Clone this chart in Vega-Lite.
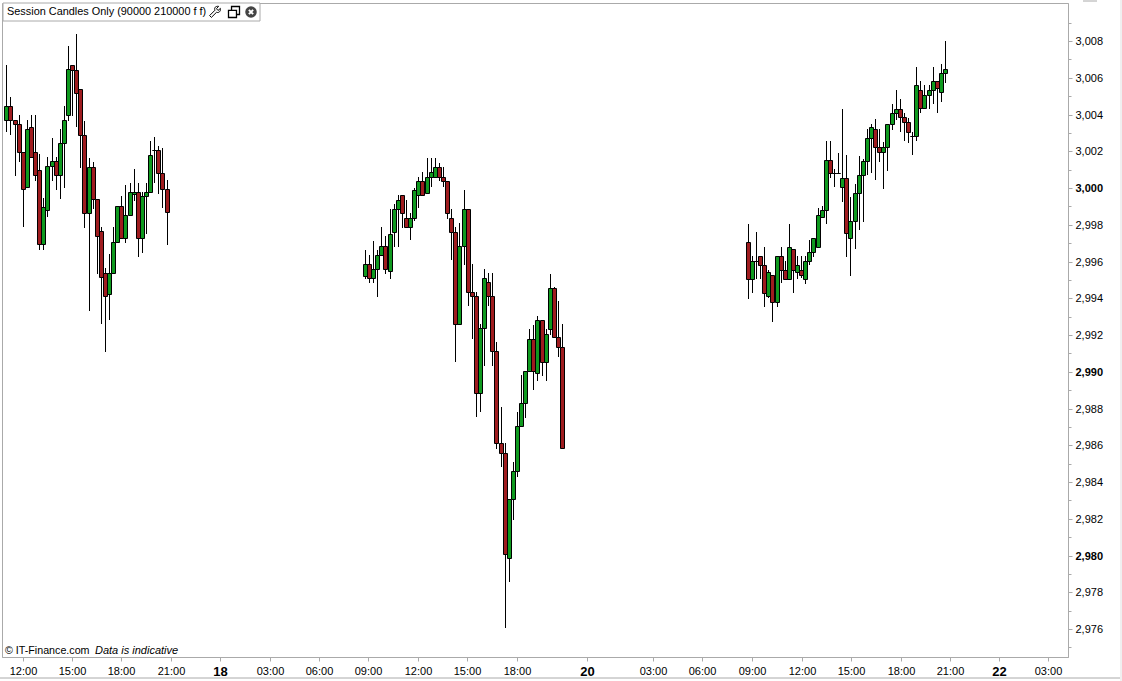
{"$schema":"https://vega.github.io/schema/vega-lite/v6.json","width":1066,"height":654,"autosize":{"type":"none"},"padding":{"left":2,"top":3,"right":54,"bottom":24},"background":"white","view":{"stroke":"#aaaaaa","strokeWidth":1,"fill":"white"},"config":{"font":"Liberation Sans"},
"data":{"values":[
{"s":-4,"o":3003.68,"c":3004.44,"h":3006.69,"l":3003.07},{"s":-3,"o":3004.44,"c":3003.68,"h":3004.93,"l":3002.88},{"s":-2,"o":3003.68,"c":3003.46,"h":3003.70,"l":3000.67},{"s":-1,"o":3003.46,"c":3001.94,"h":3003.97,"l":3001.43},{"s":0,"o":3001.94,"c":2999.93,"h":3001.94,"l":2997.90},{"s":1,"o":3000.04,"c":3003.19,"h":3003.70,"l":3000.04},{"s":2,"o":3003.30,"c":3001.67,"h":3003.95,"l":3001.67},{"s":3,"o":3001.94,"c":3000.69,"h":3003.95,"l":3000.40},{"s":4,"o":3000.96,"c":2996.93,"h":3001.85,"l":2996.63},{"s":5,"o":2996.93,"c":2998.95,"h":2999.46,"l":2996.63},{"s":6,"o":2998.78,"c":3001.18,"h":3001.69,"l":2998.44},{"s":7,"o":3001.18,"c":3001.45,"h":3002.72,"l":3000.40},{"s":8,"o":3001.45,"c":3000.69,"h":3001.69,"l":2999.89},{"s":9,"o":3000.69,"c":3002.43,"h":3003.19,"l":2999.40},{"s":10,"o":3002.43,"c":3003.68,"h":3004.44,"l":3000.02},{"s":11,"o":3003.95,"c":3006.46,"h":3007.71,"l":3003.65},{"s":12,"o":3006.68,"c":3006.40,"h":3006.68,"l":3003.90},{"s":13,"o":3006.40,"c":3005.15,"h":3008.38,"l":3003.34},{"s":14,"o":3005.37,"c":3002.87,"h":3005.37,"l":3001.11},{"s":15,"o":3002.87,"c":2998.62,"h":3003.65,"l":2997.84},{"s":16,"o":2998.62,"c":3001.12,"h":3001.61,"l":2993.32},{"s":17,"o":3001.12,"c":2999.38,"h":3001.40,"l":2998.87},{"s":18,"o":2999.38,"c":2997.37,"h":2999.38,"l":2995.34},{"s":19,"o":2997.64,"c":2995.14,"h":2997.86,"l":2992.62},{"s":20,"o":2995.36,"c":2994.10,"h":2995.65,"l":2991.09},{"s":21,"o":2994.21,"c":2995.36,"h":2996.39,"l":2992.83},{"s":22,"o":2995.36,"c":2997.04,"h":2997.86,"l":2995.36},{"s":23,"o":2997.04,"c":2999.00,"h":2999.00,"l":2997.04},{"s":24,"o":2999.00,"c":2997.26,"h":2999.56,"l":2997.26},{"s":25,"o":2997.26,"c":2998.51,"h":3000.15,"l":2997.02},{"s":26,"o":2998.51,"c":2999.76,"h":3000.25,"l":2998.51},{"s":27,"o":2999.66,"c":2999.76,"h":3001.03,"l":2999.27},{"s":28,"o":2999.76,"c":2997.26,"h":3000.25,"l":2996.26},{"s":29,"o":2997.26,"c":2999.55,"h":2999.76,"l":2996.48},{"s":30,"o":2999.55,"c":2999.76,"h":3000.25,"l":2997.51},{"s":31,"o":2999.76,"c":3001.78,"h":3002.54,"l":2999.76},{"s":32,"o":3002.05,"c":3002.05,"h":3002.79,"l":3000.25},{"s":33,"o":3002.05,"c":3000.80,"h":3002.29,"l":2999.66},{"s":34,"o":3000.80,"c":2999.93,"h":3002.16,"l":2998.89},{"s":35,"o":2999.93,"c":2998.68,"h":3000.44,"l":2996.91},
{"s":83.3,"o":2995.19,"c":2995.85,"h":2996.61,"l":2995.07},{"s":84.3,"o":2995.85,"c":2995.08,"h":2996.34,"l":2994.85},{"s":85.3,"o":2995.08,"c":2995.57,"h":2997.10,"l":2994.85},{"s":86.3,"o":2995.57,"c":2996.34,"h":2996.61,"l":2994.09},{"s":87.3,"o":2996.34,"c":2996.83,"h":2997.86,"l":2996.34},{"s":88.3,"o":2996.83,"c":2995.57,"h":2997.37,"l":2995.32},{"s":89.3,"o":2995.46,"c":2997.48,"h":2998.84,"l":2995.07},{"s":90.3,"o":2997.59,"c":2998.84,"h":2999.11,"l":2996.81},{"s":91.3,"o":2998.84,"c":2999.33,"h":2999.60,"l":2996.81},{"s":92.3,"o":2999.60,"c":2998.62,"h":2999.60,"l":2997.84},{"s":93.3,"o":2998.35,"c":2997.86,"h":2999.33,"l":2997.86},{"s":94.3,"o":2997.86,"c":2998.35,"h":2998.62,"l":2997.19},{"s":95.3,"o":2998.35,"c":2999.87,"h":2999.98,"l":2998.22},{"s":96.3,"o":2999.60,"c":3000.36,"h":3000.58,"l":2998.91},{"s":97.3,"o":3000.36,"c":2999.60,"h":3000.85,"l":2999.60},{"s":98.3,"o":2999.71,"c":3000.58,"h":3001.61,"l":2999.71},{"s":99.3,"o":3000.58,"c":3000.85,"h":3001.61,"l":3000.07},{"s":100.3,"o":3000.58,"c":3001.12,"h":3001.61,"l":3000.58},{"s":101.3,"o":3001.12,"c":3000.58,"h":3001.34,"l":3000.36},{"s":102.3,"o":3000.58,"c":3000.36,"h":3001.12,"l":3000.07},{"s":103.3,"o":3000.36,"c":2998.62,"h":3000.36,"l":2998.33},{"s":104.3,"o":2998.35,"c":2997.59,"h":2998.84,"l":2996.10},{"s":105.3,"o":2997.59,"c":2992.58,"h":2997.86,"l":2990.55},{"s":106.3,"o":2992.58,"c":2996.83,"h":2998.08,"l":2992.58},{"s":107.3,"o":2996.83,"c":2998.84,"h":2999.87,"l":2995.83},{"s":108.3,"o":2998.86,"c":2994.32,"h":2998.86,"l":2993.58},{"s":109.3,"o":2994.32,"c":2994.10,"h":2995.86,"l":2991.80},{"s":110.3,"o":2994.10,"c":2988.83,"h":2994.32,"l":2987.56},{"s":111.3,"o":2988.83,"c":2992.36,"h":2992.58,"l":2987.83},{"s":112.3,"o":2992.36,"c":2995.08,"h":2995.57,"l":2990.30},{"s":113.3,"o":2994.87,"c":2994.10,"h":2995.36,"l":2993.58},{"s":114.3,"o":2994.10,"c":2991.11,"h":2995.36,"l":2990.31},{"s":115.3,"o":2991.11,"c":2986.10,"h":2991.62,"l":2985.81},{"s":116.3,"o":2986.10,"c":2985.56,"h":2988.08,"l":2984.83},{"s":117.3,"o":2985.56,"c":2980.06,"h":2986.10,"l":2976.07},{"s":118.3,"o":2979.85,"c":2983.06,"h":2983.06,"l":2978.58},{"s":119.3,"o":2983.06,"c":2984.58,"h":2985.07,"l":2981.93},{"s":120.3,"o":2984.58,"c":2987.03,"h":2987.79,"l":2984.29},{"s":121.3,"o":2987.03,"c":2988.28,"h":2989.80,"l":2987.03},{"s":122.3,"o":2988.28,"c":2990.02,"h":2990.02,"l":2987.50},{"s":123.3,"o":2990.02,"c":2991.76,"h":2992.31,"l":2990.02},{"s":124.3,"o":2991.76,"c":2990.02,"h":2992.53,"l":2989.03},{"s":125.3,"o":2989.91,"c":2992.80,"h":2993.03,"l":2989.52},{"s":126.3,"o":2992.80,"c":2990.51,"h":2992.80,"l":2989.79},{"s":127.3,"o":2990.51,"c":2992.04,"h":2992.31,"l":2989.52},{"s":128.3,"o":2992.31,"c":2994.54,"h":2995.30,"l":2992.02},{"s":129.3,"o":2994.54,"c":2991.87,"h":2994.59,"l":2991.87},{"s":130.3,"o":2991.87,"c":2991.33,"h":2993.83,"l":2990.82},{"s":131.3,"o":2991.33,"c":2985.83,"h":2992.58,"l":2985.83},
{"s":176.5,"o":2997.04,"c":2995.03,"h":2998.02,"l":2993.98},{"s":177.5,"o":2995.03,"c":2996.01,"h":2996.28,"l":2994.27},{"s":178.5,"o":2996.01,"c":2996.01,"h":2997.59,"l":2995.03},{"s":179.5,"o":2996.28,"c":2995.79,"h":2996.28,"l":2995.03},{"s":180.5,"o":2995.79,"c":2994.27,"h":2996.77,"l":2993.51},{"s":181.5,"o":2994.14,"c":2995.41,"h":2995.52,"l":2994.00},{"s":182.5,"o":2995.25,"c":2993.78,"h":2995.25,"l":2992.73},{"s":183.5,"o":2993.78,"c":2996.28,"h":2996.28,"l":2993.51},{"s":184.5,"o":2996.28,"c":2995.52,"h":2996.77,"l":2994.81},{"s":185.5,"o":2995.52,"c":2995.03,"h":2996.01,"l":2995.03},{"s":186.5,"o":2995.03,"c":2996.77,"h":2998.02,"l":2995.03},{"s":187.5,"o":2996.66,"c":2995.52,"h":2996.66,"l":2994.27},{"s":188.5,"o":2995.41,"c":2995.79,"h":2996.28,"l":2995.03},{"s":189.5,"o":2995.52,"c":2995.25,"h":2996.28,"l":2995.12},{"s":190.5,"o":2995.03,"c":2996.01,"h":2996.28,"l":2994.76},{"s":191.5,"o":2996.01,"c":2996.50,"h":2997.15,"l":2995.79},{"s":192.5,"o":2996.50,"c":2997.26,"h":2997.26,"l":2996.26},{"s":193.5,"o":2996.77,"c":2998.51,"h":2998.89,"l":2996.77},{"s":194.5,"o":2998.40,"c":2998.78,"h":2999.00,"l":2998.35},{"s":195.5,"o":2998.78,"c":3001.51,"h":3002.54,"l":2998.02},{"s":196.5,"o":3001.51,"c":3000.80,"h":3002.54,"l":3000.53},{"s":197.5,"o":3000.80,"c":3000.80,"h":3001.02,"l":3000.04},{"s":198.5,"o":3000.80,"c":3000.80,"h":3001.89,"l":3000.80},{"s":199.5,"o":3000.04,"c":3000.53,"h":3004.28,"l":2999.26},{"s":200.5,"o":3000.53,"c":2997.53,"h":3001.78,"l":2996.26},{"s":201.5,"o":2997.26,"c":2998.19,"h":2999.53,"l":2995.23},{"s":202.5,"o":2998.19,"c":2999.71,"h":3000.22,"l":2996.70},{"s":203.5,"o":2999.71,"c":3000.69,"h":3001.74,"l":2997.70},{"s":204.5,"o":3000.69,"c":3001.45,"h":3001.56,"l":2998.17},{"s":205.5,"o":3001.45,"c":3002.70,"h":3003.21,"l":3000.69},{"s":206.5,"o":3002.70,"c":3003.34,"h":3003.47,"l":3000.80},{"s":207.5,"o":3003.19,"c":3002.21,"h":3003.76,"l":3000.45},{"s":208.5,"o":3002.21,"c":3001.94,"h":3003.19,"l":3001.43},{"s":209.5,"o":3001.94,"c":3002.21,"h":3002.49,"l":2999.96},{"s":210.5,"o":3002.21,"c":3003.47,"h":3003.47,"l":3000.94},{"s":211.5,"o":3003.47,"c":3004.06,"h":3004.55,"l":3003.16},{"s":212.5,"o":3004.06,"c":3004.32,"h":3005.32,"l":3003.70},{"s":213.5,"o":3004.32,"c":3003.85,"h":3004.83,"l":3003.07},{"s":214.5,"o":3003.85,"c":3003.57,"h":3004.06,"l":3002.58},{"s":215.5,"o":3003.57,"c":3003.07,"h":3003.83,"l":3002.43},{"s":216.5,"o":3002.81,"c":3002.81,"h":3003.07,"l":3001.78},{"s":217.5,"o":3002.81,"c":3005.59,"h":3006.59,"l":3002.58},{"s":218.5,"o":3005.32,"c":3004.34,"h":3005.82,"l":3004.06},{"s":219.5,"o":3004.34,"c":3005.08,"h":3005.59,"l":3004.34},{"s":220.5,"o":3005.08,"c":3005.32,"h":3005.59,"l":3004.32},{"s":221.5,"o":3005.32,"c":3005.82,"h":3006.59,"l":3004.55},{"s":222.5,"o":3005.82,"c":3005.46,"h":3005.82,"l":3004.10},{"s":223.5,"o":3005.21,"c":3006.24,"h":3006.75,"l":3004.70},{"s":224.5,"o":3006.24,"c":3006.46,"h":3008.00,"l":3005.73}
]},
"layer":[
{"mark":{"type":"rule","stroke":"black","strokeWidth":1,"xOffset":0.5},
"encoding":{
"x":{"field":"s","type":"quantitative","scale":{"domain":[-5.064,254.46],"round":true,"nice":false,"zero":false,"padding":0},
"axis":{"orient":"bottom","title":null,"grid":false,"values":[0,12,24,36,48,60.2,72,84,96.2,108.1,120.3,137.4,153.4,165.3,177.6,189.6,201.6,213.8,225.7,237.6,249.6],
"labelExpr":"['12:00','15:00','18:00','21:00','18','03:00','06:00','09:00','12:00','15:00','18:00','20','03:00','06:00','09:00','12:00','15:00','18:00','21:00','22','03:00'][indexof([0,12,24,36,48,60.2,72,84,96.2,108.1,120.3,137.4,153.4,165.3,177.6,189.6,201.6,213.8,225.7,237.6,249.6],datum.value)]",
"labelFontWeight":{"condition":{"test":"indexof([48,137.4,237.6],datum.value)>=0","value":"bold"},"value":"normal"},
"labelFontSize":{"condition":{"test":"indexof([48,137.4,237.6],datum.value)>=0","value":13},"value":11},
"labelColor":"black","labelFont":"Liberation Sans","labelOverlap":false,"labelFlush":false,"labelPadding":4,"tickSize":4,"tickColor":"#aaaaaa","domainColor":"#aaaaaa","tickWidth":1}},
"y":{"field":"h","type":"quantitative","scale":{"domain":[2974.48,3010.07],"round":true,"nice":false,"zero":false,"padding":0},
"axis":{"orient":"right","title":null,"grid":false,"tickCount":40,"values":[2975,2976,2977,2978,2979,2980,2981,2982,2983,2984,2985,2986,2987,2988,2989,2990,2991,2992,2993,2994,2995,2996,2997,2998,2999,3000,3001,3002,3003,3004,3005,3006,3007,3008,3009],
"labelExpr":"datum.value%2==0?format(datum.value,',.0f'):''",
"labelFontWeight":{"condition":{"test":"datum.value%10==0","value":"bold"},"value":"normal"},
"tickSize":{"condition":{"test":"datum.value%2==0","value":4},"value":3},
"labelFontSize":11,"labelColor":"black","labelFont":"Liberation Sans","labelOverlap":false,"labelFlush":false,"labelPadding":3,"tickColor":"#aaaaaa","domainColor":"#aaaaaa","tickWidth":1}},
"y2":{"field":"l"}}},
{"mark":{"type":"bar","size":4,"stroke":"black","strokeWidth":1,"xOffset":0.5,"yOffset":0.5,"y2Offset":0.5},
"encoding":{"x":{"field":"s","type":"quantitative"},"y":{"field":"o","type":"quantitative"},"y2":{"field":"c"},
"fill":{"condition":{"test":"datum.c>datum.o","value":"#0f9a1f"},"value":"#9f1c1f"}}},
{"data":{"values":[{"part":"bottom edge"}]},"mark":{"type":"rule","stroke":"#aaaaaa","strokeWidth":1},"encoding":{"x":{"datum":-5.6,"type":"quantitative"},"x2":{"datum":267.6},"y":{"datum":2973.36,"type":"quantitative"}}},
{"data":{"values":[{"part":"right strip"}]},"mark":{"type":"rule","stroke":"#f0f0f0","strokeWidth":4},"encoding":{"x":{"datum":267.6,"type":"quantitative"},"y":{"datum":3010.3,"type":"quantitative"},"y2":{"datum":2972.6}}},
{"data":{"values":[{"part":"tab"}]},"mark":{"type":"rule","stroke":"#aaaaaa","strokeWidth":1},"encoding":{"x":{"datum":258.1,"type":"quantitative"},"x2":{"datum":261.5},"y":{"datum":3010.18,"type":"quantitative"}}},
{"data":{"values":[{"part":"header"}]},"mark":{"type":"rect","fill":"white","stroke":"#aaaaaa","strokeWidth":1},"encoding":{"x":{"datum":-4.82,"type":"quantitative"},"x2":{"datum":57.75},"y":{"datum":3010.07,"type":"quantitative"},"y2":{"datum":3009.1}}},
{"data":{"values":[{"label":"Session Candles Only (90000 210000 f f)"}]},"mark":{"type":"text","align":"left","baseline":"middle","font":"Liberation Sans","fontSize":10.9,"fill":"black"},"encoding":{"x":{"datum":-3.85,"type":"quantitative"},"y":{"datum":3009.58,"type":"quantitative"},"text":{"field":"label"}}},
{"data":{"values":[{"label":"© IT-Finance.com"}]},"mark":{"type":"text","align":"left","baseline":"middle","font":"Liberation Sans","fontSize":10.7,"fill":"black"},"encoding":{"x":{"datum":-4.33,"type":"quantitative"},"y":{"datum":2974.8,"type":"quantitative"},"text":{"field":"label"}}},
{"data":{"values":[{"label":"Data is indicative"}]},"mark":{"type":"text","align":"left","baseline":"middle","font":"Liberation Sans","fontSize":11,"fontStyle":"italic","fill":"black"},"encoding":{"x":{"datum":17.58,"type":"quantitative"},"y":{"datum":2974.8,"type":"quantitative"},"text":{"field":"label"}}},
{"data":{"values":[{"icon":"wrench"}]},"mark":{"type":"point","filled":false,"fill":"white","stroke":"black","strokeWidth":1,"opacity":1,"size":144,"shape":"M-0.9,0.6 L0,-0.3 C-0.2,-0.7 0.1,-1 0.6,-0.95 L0.25,-0.55 L0.5,-0.25 L0.9,-0.6 C1,-0.1 0.6,0.2 0.25,0.05 L-0.6,0.9 Z"},"encoding":{"x":{"datum":46.9,"type":"quantitative"},"y":{"datum":3009.58,"type":"quantitative"}}},
{"data":{"values":[{"icon":"window"}]},"mark":{"type":"point","filled":false,"fill":"white","stroke":"black","strokeWidth":1.3,"opacity":1,"size":121,"shape":"M-1,-0.3 H0.45 V1 H-1 Z M-0.45,-0.3 V-1 H1 V0.45 H0.45"},"encoding":{"x":{"datum":51.3,"type":"quantitative"},"y":{"datum":3009.58,"type":"quantitative"}}},
{"data":{"values":[{"icon":"close"}]},"mark":{"type":"point","filled":true,"fill":"#444444","opacity":1,"size":133,"shape":"circle"},"encoding":{"x":{"datum":55.56,"type":"quantitative"},"y":{"datum":3009.58,"type":"quantitative"}}},
{"data":{"values":[{"icon":"close cross"}]},"mark":{"type":"point","filled":false,"stroke":"white","strokeWidth":2,"opacity":1,"size":144,"shape":"M-0.35,-0.35 L0.35,0.35 M-0.35,0.35 L0.35,-0.35"},"encoding":{"x":{"datum":55.56,"type":"quantitative"},"y":{"datum":3009.58,"type":"quantitative"}}}
]}
